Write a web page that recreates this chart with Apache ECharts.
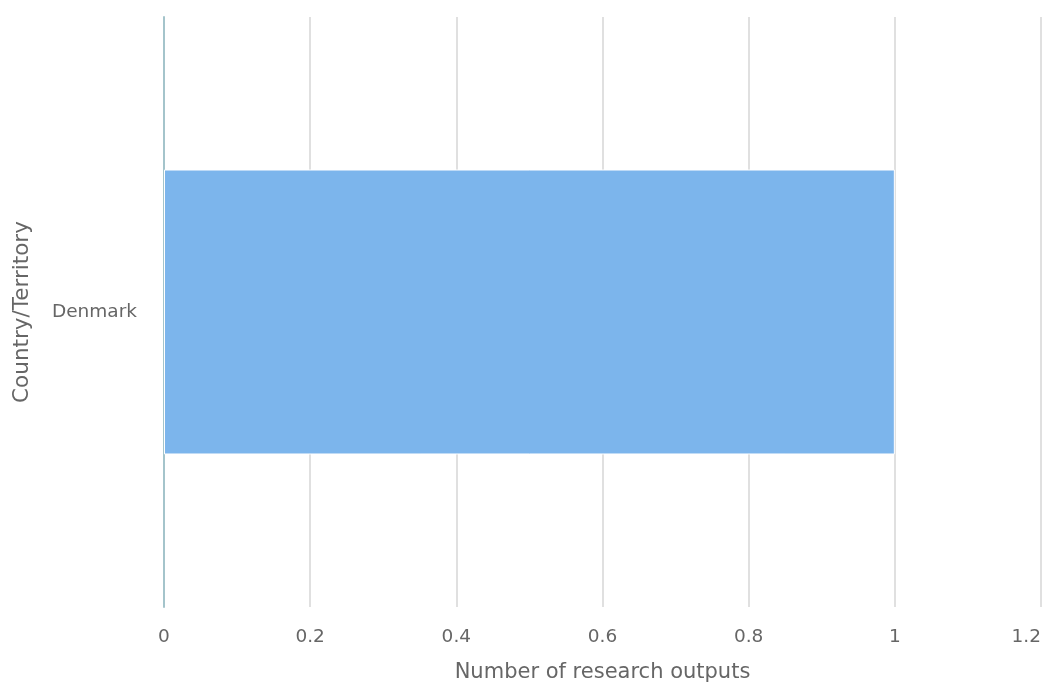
<!DOCTYPE html>
<html>
<head>
<meta charset="utf-8">
<script src="https://cdn.jsdelivr.net/npm/echarts@6/dist/echarts.min.js"></script>
<style>html,body{margin:0;padding:0;background:#fff;}#c{width:1043px;height:682px;}</style>
</head>
<body>
<div id="c"></div>
<script>
const categories = ["Denmark"];
const values = [1];
const xTicks = [0, 0.2, 0.4, 0.6, 0.8, 1, 1.2];

const chart = echarts.init(document.getElementById('c'), null, {renderer: 'canvas'});
chart.setOption({
  animation: false,
  textStyle: {fontFamily: 'DejaVu Sans'},
  grid: {left: 164, right: 2, top: 17, bottom: 75, containLabel: false, outerBoundsMode: 'none'},
  xAxis: {
    type: 'value',
    min: xTicks[0],
    max: xTicks[xTicks.length - 1],
    interval: 0.2,
    name: 'Number of research outputs',
    nameLocation: 'middle',
    nameGap: 55,
    nameTextStyle: {color: '#666', fontSize: 21, fontFamily: 'DejaVu Sans'},
    axisLine: {show: false},
    axisTick: {show: false},
    axisLabel: {color: '#666', fontSize: 18.5, margin: 21, fontFamily: 'DejaVu Sans',
      alignMaxLabel: 'right',
      formatter: v => String(Math.round(v * 10) / 10)},
    splitLine: {show: true, lineStyle: {color: '#e0e0e0', width: 2}}
  },
  yAxis: {
    type: 'category',
    data: categories,
    name: 'Country/Territory',
    nameLocation: 'middle',
    nameGap: 131,
    nameTextStyle: {color: '#666', fontSize: 21.5, fontFamily: 'DejaVu Sans'},
    axisLine: {show: true, lineStyle: {color: '#a4c4cb', width: 2}},
    axisTick: {show: false},
    axisLabel: {color: '#666', fontSize: 18.5, margin: 27, fontFamily: 'DejaVu Sans'},
    splitLine: {show: false}
  },
  series: [{
    type: 'bar',
    data: values,
    barCategoryGap: '51.7%',
    itemStyle: {color: '#7cb5ec', borderColor: '#fff', borderWidth: 1}
  }]
});
</script>
</body>
</html>
